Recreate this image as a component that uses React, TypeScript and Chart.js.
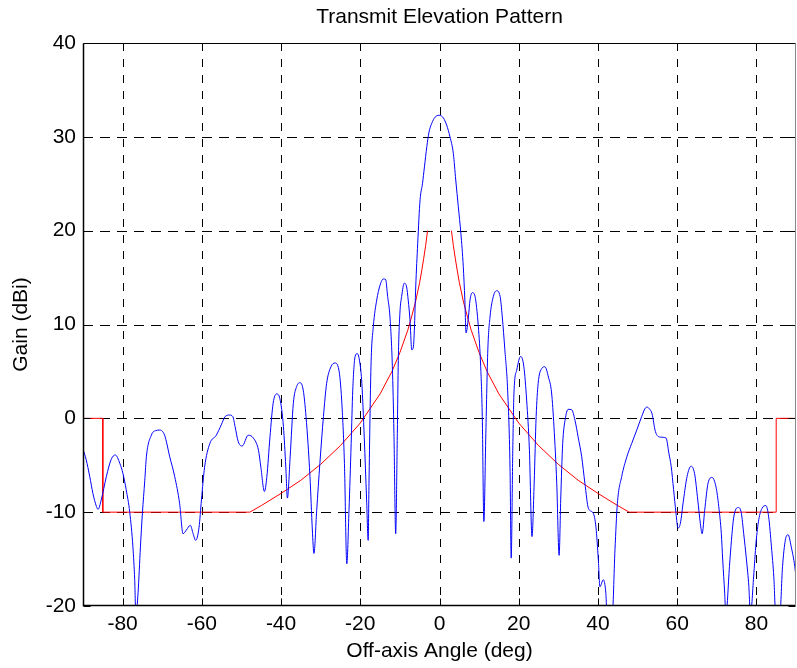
import React, { useEffect, useRef } from "react";
import { Chart, registerables } from "chart.js";

Chart.register(...registerables);

// Measured antenna gain (blue)
const gainAngles = [
  -90.0, -89.2, -88.3, -87.5, -86.6, -86.2, -85.4, -84.1, -82.9, -81.85,
  -80.7, -79.9, -79.1, -78.2, -77.4, -76.95, -76.65, -76.1, -75.5, -75.0,
  -74.4, -74.0, -72.75, -71.6, -70.65, -69.4, -68.1, -66.85, -65.6, -64.75,
  -63.9, -62.9, -62.2, -61.55, -60.7, -60.1, -59.3, -58.0, -56.35, -55.1,
  -54.1, -53.0, -52.2, -51.6, -50.8, -49.8, -48.3, -47.0, -45.7, -45.1,
  -44.2, -43.6, -42.8, -42.0, -41.1, -40.3, -39.4, -38.8, -38.4, -37.7,
  -36.9, -36.05, -35.2, -34.4, -33.7, -32.7, -32.1, -31.7, -31.0, -30.2,
  -29.3, -28.5, -27.4, -26.4, -25.4, -24.7, -24.0, -23.4, -22.85, -22.3,
  -21.9, -21.3, -20.75, -20.1, -19.6, -19.0, -18.4, -18.0, -17.8, -17.3,
  -16.7, -15.85, -15.0, -14.2, -13.6, -13.1, -12.5, -11.9, -11.5, -11.06,
  -10.65, -10.4, -10.0, -9.55, -8.9, -8.3, -7.9, -7.45, -7.0, -6.6,
  -6.35, -6.0, -5.5, -4.9, -4.3, -3.8, -3.2, -2.65, -2.0, -1.1,
  -0.1, 1.0, 1.8, 2.65, 3.5, 4.1, 4.75, 5.4, 6.0, 6.4,
  6.7, 7.3, 7.7, 8.3, 8.96, 9.8, 10.4, 10.8, 11.2, 11.7,
  12.2, 12.75, 13.6, 14.4, 15.3, 15.85, 16.5, 17.2, 17.8, 18.1,
  18.5, 18.8, 19.5, 20.5, 21.3, 22.0, 22.7, 23.35, 23.9, 24.4,
  24.9, 25.8, 26.6, 27.5, 28.3, 28.9, 29.6, 30.2, 30.6, 31.1,
  31.7, 32.5, 33.4, 34.2, 35.0, 35.9, 36.7, 37.6, 38.8, 39.5,
  40.1, 40.5, 41.35, 42.0, 42.3, 43.6, 44.3, 44.9, 46.0, 47.3,
  48.5, 49.8, 51.05, 51.9, 52.4, 53.0, 53.65, 54.5, 55.75, 57.2,
  57.9, 58.5, 59.1, 59.7, 60.2, 60.8, 61.6, 62.5, 63.5, 64.4,
  65.2, 65.85, 66.3, 66.95, 67.8, 68.8, 69.8, 70.5, 71.15, 71.5,
  72.0, 72.3, 73.2, 73.7, 74.3, 75.4, 76.2, 76.8, 77.5, 78.1,
  78.5, 79.3, 79.9, 80.6, 81.4, 82.4, 83.1, 83.8, 84.4, 84.9,
  85.9, 86.6, 87.3, 88.0, 88.8, 89.7, 90.0,
];
const gainValues = [
  -3.3, -4.4, -6.2, -8.0, -9.4, -9.7, -8.7, -6.2, -4.4, -3.9,
  -4.8, -5.9, -7.6, -10.0, -13.7, -17.2, -21.0, -18.6, -13.7, -10.1,
  -6.6, -4.1, -1.8, -1.3, -1.25, -1.8, -4.1, -6.2, -9.1, -12.3,
  -11.9, -11.4, -12.3, -13.0, -11.6, -8.7, -5.2, -2.7, -1.8, -0.7,
  0.2, 0.35, 0.2, -0.9, -2.5, -2.95, -1.8, -2.1, -3.4, -5.2,
  -7.8, -6.3, -2.0, 1.6, 2.6, 2.1, -0.9, -5.2, -8.5, -4.1,
  1.6, 3.4, 3.8, 3.0, 0.2, -6.2, -11.9, -14.4, -9.8, -4.8,
  0.2, 3.7, 5.5, 5.9, 5.15, 1.95, -4.8, -15.5, -9.8, -2.7,
  3.0, 6.6, 6.9, 5.9, 3.7, -2.0, -8.7, -13.0, -6.9, 5.5,
  9.8, 12.6, 14.2, 14.85, 14.8, 13.0, 10.8, 5.5, -1.6, -12.3,
  -1.6, 6.2, 11.2, 13.0, 14.4, 14.0, 12.6, 10.5, 7.3, 7.6,
  9.4, 14.0, 18.65, 23.3, 25.0, 26.8, 28.95, 30.5, 31.4, 32.1,
  32.3, 32.0, 31.25, 30.0, 28.2, 25.4, 22.55, 19.7, 16.2, 12.6,
  9.1, 10.8, 12.6, 13.4, 13.0, 9.8, 5.5, 0.2, -11.0, -1.6,
  7.3, 10.8, 13.0, 13.6, 13.0, 10.8, 7.3, 3.0, -5.2, -14.9,
  -3.4, 2.7, 5.15, 6.6, 5.5, 1.95, -3.4, -12.6, -6.9, 0.2,
  3.7, 5.3, 5.5, 4.4, 2.7, -0.9, -6.9, -14.6, -8.7, -2.7,
  -0.2, 0.96, 0.9, -0.2, -2.0, -4.1, -6.9, -9.6, -10.1, -11.6,
  -15.1, -17.95, -17.2, -18.65, -21.0, -21.0, -14.0, -9.1, -6.2, -4.1,
  -2.7, -1.25, 0.2, 1.06, 1.2, 1.0, 0.5, -1.4, -2.0, -2.1,
  -3.7, -5.15, -7.6, -10.1, -11.7, -11.2, -8.7, -6.2, -5.1, -5.9,
  -8.7, -11.2, -12.3, -9.8, -6.9, -6.3, -7.3, -9.4, -12.3, -15.1,
  -18.65, -21.0, -15.8, -13.0, -10.5, -9.5, -10.1, -12.3, -15.1, -17.95,
  -21.0, -16.9, -13.3, -10.8, -9.6, -9.3, -10.5, -13.7, -16.9, -21.0,
  -21.0, -15.8, -13.0, -12.4, -13.7, -15.8, -17.0,
];

// Regulatory mask (red); null = gap around boresight
const maskAngles = [
  -90, -85, -85, -47.9, -45, -40, -35, -30, -25, -20, -15, -12, -10, -8, -7, -6, -5, -4.5, -4, -3.5, -3.02,
  0,
  3.02, 3.5, 4, 4.5, 5, 6, 7, 8, 10, 12, 15, 20, 25, 30, 35, 40, 45, 47.9, 85, 85, 90,
];
const maskGain = [
  0, 0, -10, -10, -9.3, -8.0, -6.6, -4.9, -2.9, -0.5, 2.6, 5.0, 7.0, 9.4, 10.9, 12.5, 14.5, 15.7, 17.0, 18.4, 20.0,
  null,
  20.0, 18.4, 17.0, 15.7, 14.5, 12.5, 10.9, 9.4, 7.0, 5.0, 2.6, -0.5, -2.9, -4.9, -6.6, -8.0, -9.3, -10, -10, 0, 0,
];

const xTicks = [-80, -60, -40, -20, 0, 20, 40, 60, 80];
const yTicks = [-20, -10, 0, 10, 20, 30, 40];

const FONT = "'Liberation Sans', Arial, Helvetica, sans-serif";
const FONT_SIZE = 21;

const matlabAxes = {
  id: "matlabAxes",
  beforeDatasetsDraw(chart: any) {
    const { ctx, chartArea: a, scales } = chart;
    const x = scales.x;
    const y = scales.y;
    ctx.save();
    ctx.strokeStyle = "#000";
    ctx.lineWidth = 1;
    ctx.setLineDash([8, 8]);
    xTicks.forEach((v) => {
      const px = Math.round(x.getPixelForValue(v)) + 0.5;
      ctx.beginPath();
      ctx.moveTo(px, a.top);
      ctx.lineTo(px, a.bottom);
      ctx.stroke();
    });
    ctx.setLineDash([10, 7]);
    yTicks.forEach((v) => {
      if (v === -20 || v === 40) return;
      const py = Math.round(y.getPixelForValue(v)) + 0.5;
      ctx.beginPath();
      ctx.moveTo(a.left, py);
      ctx.lineTo(a.right, py);
      ctx.stroke();
    });
    ctx.restore();
  },
  afterDatasetsDraw(chart: any) {
    const { ctx, chartArea: a, scales } = chart;
    const x = scales.x;
    const y = scales.y;
    const L = Math.round(a.left) + 0.5;
    const R = Math.round(a.right) - 0.5;
    const T = Math.round(a.top) + 0.5;
    const B = Math.round(a.bottom) - 0.5;
    ctx.save();
    ctx.setLineDash([]);
    ctx.strokeStyle = "#000";
    ctx.lineWidth = 1;
    const tl = 7;
    xTicks.forEach((v) => {
      const px = Math.round(x.getPixelForValue(v)) + 0.5;
      ctx.beginPath();
      ctx.moveTo(px, B);
      ctx.lineTo(px, B - tl);
      ctx.moveTo(px, T);
      ctx.lineTo(px, T + tl);
      ctx.stroke();
    });
    yTicks.forEach((v) => {
      const py = Math.round(y.getPixelForValue(v)) + 0.5;
      ctx.beginPath();
      ctx.moveTo(L, py);
      ctx.lineTo(L + tl, py);
      ctx.moveTo(R, py);
      ctx.lineTo(R - tl, py);
      ctx.stroke();
    });
    ctx.lineWidth = 1.5;
    ctx.beginPath();
    ctx.moveTo(L, T);
    ctx.lineTo(L, B);
    ctx.lineTo(R, B);
    ctx.stroke();
    ctx.lineWidth = 1;
    ctx.beginPath();
    ctx.moveTo(L, T);
    ctx.lineTo(R, T);
    ctx.stroke();
    ctx.strokeStyle = "#888";
    ctx.beginPath();
    ctx.moveTo(R, T);
    ctx.lineTo(R, B);
    ctx.stroke();
    ctx.restore();
  },
};

export default function App() {
  const canvasRef = useRef<HTMLCanvasElement | null>(null);

  useEffect(() => {
    document.body.style.margin = "0";
    const canvas = canvasRef.current;
    if (!canvas) return;
    const chart = new Chart(canvas, {
      type: "scatter",
      data: {
        datasets: [
          {
            data: gainAngles.map((a, i) => ({ x: a, y: gainValues[i] })),
            borderColor: "#0000ff",
            backgroundColor: "#0000ff",
            borderWidth: 1,
            pointRadius: 0,
            showLine: true,
            cubicInterpolationMode: "monotone",
          },
          {
            data: maskAngles.map((a, i) => ({ x: a, y: maskGain[i] as any })),
            borderColor: "#ff0000",
            backgroundColor: "#ff0000",
            borderWidth: 1,
            pointRadius: 0,
            showLine: true,
            spanGaps: false,
            tension: 0,
          },
        ],
      },
      options: {
        animation: false,
        responsive: false,
        devicePixelRatio: 1,
        layout: { padding: { left: 0, right: 1, top: 0, bottom: 0 } },
        plugins: {
          legend: { display: false },
          tooltip: { enabled: false },
          title: {
            display: true,
            fullSize: false,
            text: "Transmit Elevation Pattern",
            color: "#000",
            font: { family: FONT, size: FONT_SIZE, weight: "normal" as any, lineHeight: 1.2 },
            padding: { top: 5, bottom: 12.8 },
          },
        },
        scales: {
          x: {
            type: "linear",
            min: -90,
            max: 90,
            afterBuildTicks: (s: any) => {
              s.ticks = xTicks.map((v) => ({ value: v }));
            },
            ticks: {
              color: "#000",
              font: { family: FONT, size: FONT_SIZE },
              padding: 6,
              maxRotation: 0,
              autoSkip: false,
            },
            grid: { display: false, drawTicks: false },
            border: { display: false },
            title: {
              display: true,
              text: "Off-axis Angle (deg)",
              color: "#000",
              font: { family: FONT, size: FONT_SIZE, lineHeight: 1.2 },
              padding: { top: 0, bottom: 4 },
            },
            afterFit: (s: any) => {
              s.height = 62;
            },
          },
          y: {
            type: "linear",
            min: -20,
            max: 40,
            afterBuildTicks: (s: any) => {
              s.ticks = yTicks.map((v) => ({ value: v }));
            },
            ticks: {
              color: "#000",
              font: { family: FONT, size: FONT_SIZE },
              padding: 7,
            },
            grid: { display: false, drawTicks: false },
            border: { display: false },
            title: {
              display: true,
              text: "Gain (dBi)",
              color: "#000",
              font: { family: FONT, size: FONT_SIZE, lineHeight: 1.2 },
              padding: { top: 9, bottom: 0 },
            },
            afterFit: (s: any) => {
              s.width = 83;
            },
          },
        },
      },
      plugins: [matlabAxes],
    });
    return () => chart.destroy();
  }, []);

  return (
    <div style={{ width: 797, height: 668 }}>
      <canvas ref={canvasRef} width={797} height={668} style={{ display: "block" }} />
    </div>
  );
}
